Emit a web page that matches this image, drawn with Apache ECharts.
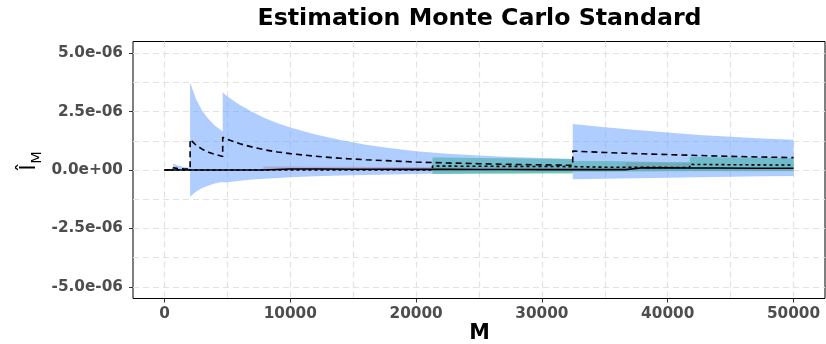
<!DOCTYPE html>
<html>
<head>
<meta charset="utf-8">
<script src="https://cdn.jsdelivr.net/npm/echarts@6/dist/echarts.min.js"></script>
<style>
  html, body { margin: 0; padding: 0; background: #fff; }
  #chart { width: 826px; height: 344px; }
</style>
</head>
<body>
<div id="chart"></div>
<script>
// All estimate / interval values below are in units of 1e-6.
const UNIT = 1e-6;

// Run drawn with a dashed line and blue confidence band
const M_A   = [0, 700, 700, 1000, 1500, 2038, 2038, 2500, 3000, 3500, 4000, 4630, 4630, 5000, 6000, 7000, 8000, 9000, 10000, 12000, 14000, 16000, 18000, 20000, 22500, 25000, 27500, 30000, 32450, 32450, 35000, 37500, 40000, 42500, 45000, 47500, 50000];
const EST_A = [0, 0, 0.10, 0.07, 0.05, 0.035, 1.31, 1.07, 0.89, 0.76, 0.67, 0.58, 1.40, 1.31, 1.12, 0.98, 0.86, 0.77, 0.70, 0.59, 0.50, 0.44, 0.39, 0.34, 0.30, 0.27, 0.24, 0.22, 0.20, 0.81, 0.75, 0.70, 0.66, 0.62, 0.585, 0.555, 0.53];
const LO_A  = [0, 0, -0.02, -0.01, 0, 0, -1.14, -0.93, -0.77, -0.66, -0.58, -0.50, -0.54, -0.52, -0.46, -0.41, -0.375, -0.34, -0.31, -0.27, -0.235, -0.21, -0.19, -0.17, -0.155, -0.14, -0.125, -0.115, -0.105, -0.40, -0.37, -0.35, -0.33, -0.31, -0.29, -0.27, -0.26];
const HI_A  = [0, 0, 0.28, 0.20, 0.13, 0.10, 3.74, 3.05, 2.54, 2.18, 1.91, 1.65, 3.33, 3.15, 2.78, 2.48, 2.22, 2.00, 1.82, 1.52, 1.28, 1.08, 0.93, 0.80, 0.70, 0.62, 0.56, 0.51, 0.47, 1.97, 1.83, 1.71, 1.60, 1.50, 1.42, 1.35, 1.30];

// Run drawn with a solid line and red confidence band
const M_B   = [0, 7850, 7850, 10000, 12500, 15000, 17500, 20000, 22500, 25000, 27500, 30000, 32500, 35000, 36650, 36650, 38000, 40000, 41750, 41750, 44000, 47000, 50000];
const EST_B = [0, 0, 0.05, 0.045, 0.04, 0.035, 0.03, 0.028, 0.025, 0.022, 0.02, 0.018, 0.017, 0.016, 0.015, 0.10, 0.097, 0.092, 0.088, 0.088, 0.083, 0.078, 0.075];
const LO_B  = [0, 0, -0.02, -0.02, -0.02, -0.02, -0.02, -0.02, -0.02, -0.02, -0.02, -0.02, -0.02, -0.02, -0.02, -0.02, -0.02, -0.02, -0.02, -0.02, -0.02, -0.02, -0.02];
const HI_B  = [0, 0, 0.15, 0.145, 0.14, 0.135, 0.13, 0.125, 0.12, 0.115, 0.11, 0.105, 0.10, 0.10, 0.10, 0.33, 0.32, 0.30, 0.29, 0.10, 0.095, 0.09, 0.09];

// Run drawn with a dotted line and green confidence band
const M_C   = [0, 21300, 21300, 22500, 25000, 27500, 30000, 32450, 32450, 35000, 36650, 38000, 40000, 41750, 41750, 44000, 47000, 50000];
const EST_C = [0, 0, 0.17, 0.165, 0.16, 0.155, 0.15, 0.145, 0.12, 0.12, 0.115, 0.115, 0.11, 0.11, 0.24, 0.23, 0.22, 0.21];
const LO_C  = [0, 0, -0.17, -0.17, -0.165, -0.16, -0.155, -0.15, -0.07, -0.07, -0.06, -0.06, -0.05, -0.05, -0.05, -0.05, -0.05, -0.05];
const HI_C  = [0, 0, 0.54, 0.53, 0.51, 0.50, 0.48, 0.47, 0.39, 0.38, 0.36, 0.355, 0.345, 0.34, 0.57, 0.55, 0.53, 0.50];

// Labelled ticks and grid lines (major + minor)
const X_TICKS = [0, 10000, 20000, 30000, 40000, 50000];
const X_GRID  = [0, 5000, 10000, 15000, 20000, 25000, 30000, 35000, 40000, 45000, 50000];
const Y_TICKS = [-5e-6, -2.5e-6, 0, 2.5e-6, 5e-6];
const Y_GRID  = [-5e-6, -3.75e-6, -2.5e-6, -1.25e-6, 0, 1.25e-6, 2.5e-6, 3.75e-6, 5e-6];

const X_RANGE = [-2500, 52500];
const Y_RANGE = [-5.5e-6, 5.5e-6];

const FONT = '"DejaVu Sans", "Noto Sans", sans-serif';
const GRID_COLOR = '#e2e2e2';

function toPairs(ms, vals) {
  return ms.map((m, i) => [m, vals[i] * UNIT]);
}

// Confidence band: one polygon through upper bounds, back along lower bounds
function band(name, ms, lo, hi, fill) {
  const data = ms.map((m, i) => [m, lo[i] * UNIT, hi[i] * UNIT]);
  return {
    type: 'custom',
    name: name,
    data: data,
    silent: true,
    animation: false,
    encode: { x: 0, y: [1, 2] },
    renderItem: function (params, api) {
      if (params.dataIndex !== 0) return null;
      const top = data.map(d => api.coord([d[0], d[2]]));
      const bottom = data.map(d => api.coord([d[0], d[1]])).reverse();
      return {
        type: 'polygon',
        shape: { points: top.concat(bottom) },
        style: { fill: fill, stroke: null }
      };
    }
  };
}

function line(name, ms, vals, dash) {
  return {
    type: 'line',
    name: name,
    data: toPairs(ms, vals),
    showSymbol: false,
    symbol: 'none',
    animation: false,
    silent: true,
    z: 4,
    lineStyle: { color: '#000', width: 1.6, type: dash, cap: 'butt' }
  };
}

function sciLabel(v) {
  if (Math.abs(v) < 1e-12) return '0.0e+00';
  const parts = v.toExponential(1).split('e');
  const exp = parseInt(parts[1], 10);
  const sign = exp < 0 ? '-' : '+';
  const digits = String(Math.abs(exp)).padStart(2, '0');
  return parts[0] + 'e' + sign + digits;
}

const labelStyle = {
  color: '#4d4d4d',
  fontWeight: 'bold',
  fontSize: 15.3,
  fontFamily: FONT
};

// Axis carrying only the dashed grid lines
function gridAxis(range, values) {
  return {
    type: 'value',
    min: range[0],
    max: range[1],
    axisLine: { show: false, onZero: false },
    axisTick: { show: false, customValues: values },
    axisLabel: { show: false, customValues: values },
    splitLine: {
      show: true,
      lineStyle: { color: GRID_COLOR, type: [6, 4], width: 1.2 }
    }
  };
}

// Axis carrying the ticks and labels
function labelAxis(range, values, formatter, margin) {
  return {
    type: 'value',
    min: range[0],
    max: range[1],
    axisLine: { show: false, onZero: false },
    axisTick: {
      show: true,
      length: 4,
      customValues: values,
      lineStyle: { color: '#333', width: 1 }
    },
    axisLabel: Object.assign({
      customValues: values,
      margin: margin,
      formatter: formatter
    }, labelStyle),
    splitLine: { show: false }
  };
}

const chart = echarts.init(document.getElementById('chart'), null, { renderer: 'canvas' });

chart.setOption({
  backgroundColor: '#ffffff',
  animation: false,
  grid: {
    left: 133,
    right: 1,
    top: 41.5,
    bottom: 45.5,
    show: true,
    borderColor: '#000',
    borderWidth: 1,
    backgroundColor: 'transparent'
  },
  xAxis: [
    Object.assign(gridAxis(X_RANGE, X_GRID), { position: 'bottom' }),
    Object.assign(labelAxis(X_RANGE, X_TICKS, v => String(v), 8), { position: 'bottom' })
  ],
  yAxis: [
    Object.assign(gridAxis(Y_RANGE, Y_GRID), { position: 'left' }),
    Object.assign(labelAxis(Y_RANGE, Y_TICKS, sciLabel, 10), { position: 'left' })
  ],
  graphic: [
    {
      type: 'text',
      x: 479.5,
      y: 19,
      silent: true,
      style: {
        text: 'Estimation Monte Carlo Standard',
        font: 'bold 23.7px ' + FONT,
        fill: '#000',
        align: 'center',
        verticalAlign: 'middle'
      }
    },
    {
      type: 'text',
      x: 479.5,
      y: 334,
      silent: true,
      style: {
        text: 'M',
        font: 'bold 20.7px ' + FONT,
        fill: '#000',
        align: 'center',
        verticalAlign: 'middle'
      }
    },
    {
      type: 'text',
      x: 30,
      y: 167.5,
      rotation: Math.PI / 2,
      silent: true,
      style: {
        text: 'Î',
        font: '20.7px ' + FONT,
        fill: '#000',
        align: 'center',
        verticalAlign: 'middle'
      }
    },
    {
      type: 'text',
      x: 37.5,
      y: 157.5,
      rotation: Math.PI / 2,
      silent: true,
      style: {
        text: 'M',
        font: '14.5px ' + FONT,
        fill: '#000',
        align: 'center',
        verticalAlign: 'middle'
      }
    }
  ],
  series: [
    band('bande B', M_B, LO_B, HI_B, 'rgba(248,118,109,0.5)'),
    band('bande C', M_C, LO_C, HI_C, 'rgba(0,186,56,0.5)'),
    band('bande A', M_A, LO_A, HI_A, 'rgba(97,156,255,0.5)'),
    line('estimation B', M_B, EST_B, 'solid'),
    line('estimation C', M_C, EST_C, [3, 3]),
    line('estimation A', M_A, EST_A, [6, 4])
  ]
});
</script>
</body>
</html>
